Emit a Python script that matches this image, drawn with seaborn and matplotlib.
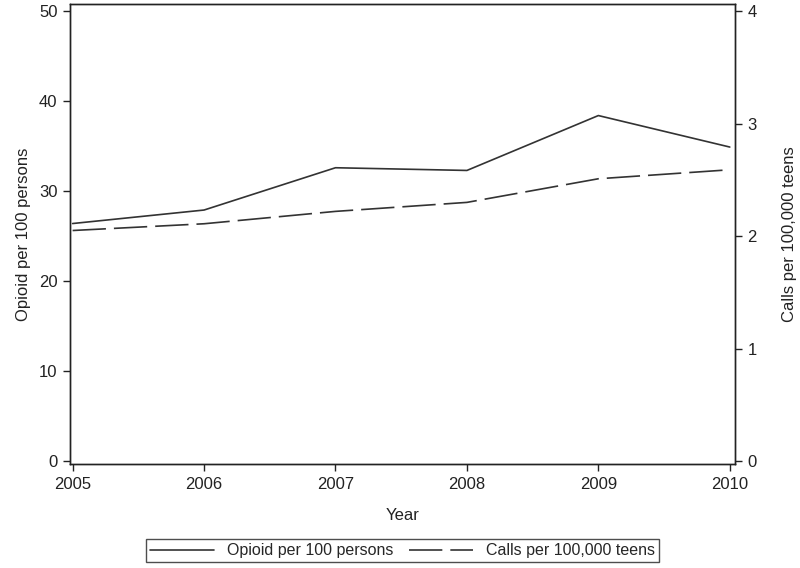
import matplotlib
matplotlib.use("Agg")
import matplotlib.pyplot as plt
import pandas as pd
import seaborn as sns

years = [2005, 2006, 2007, 2008, 2009, 2010]
opioid = [26.4, 27.9, 32.6, 32.3, 38.4, 34.9]
calls = [2.05, 2.11, 2.22, 2.30, 2.51, 2.59]
left_ticks = [0, 10, 20, 30, 40, 50]
right_ticks = [0, 1, 2, 3, 4]

sns.set_style("ticks")
plt.rcParams['font.family'] = ['Liberation Sans', 'DejaVu Sans']

df = pd.DataFrame({"Year": years, "opioid": opioid, "calls": calls})
line_color = "#333333"
text_color = "#222222"

fig = plt.figure(figsize=(8, 5.68), dpi=100)
ax = fig.add_axes([0.0875, 0.183, 0.8313, 0.81])
ax2 = ax.twinx()

sns.lineplot(data=df, x="Year", y="opioid", ax=ax, color=line_color,
             linewidth=1.2, label="Opioid per 100 persons", legend=False)
sns.lineplot(data=df, x="Year", y="calls", ax=ax2, color=line_color,
             linewidth=1.2, label="Calls per 100,000 teens", legend=False)
# long dashes, like the original
ax2.lines[0].set_linestyle((0, (20, 4.8)))

ax.set_xlim(2004.98, 2010.04)
ax.set_ylim(-0.33, 50.8)
ax2.set_ylim(-0.33 / 12.5, 50.8 / 12.5)
ax.set_xticks(years)
ax.set_yticks(left_ticks)
ax2.set_yticks(right_ticks)

for a in (ax, ax2):
    for s in a.spines.values():
        s.set_color(text_color)
        s.set_linewidth(1.0)
    a.tick_params(labelsize=12, length=5, width=1.0, pad=4,
                  color=text_color, labelcolor=text_color)

ax.set_xlabel("Year", fontsize=12, color=text_color, labelpad=12)
ax.set_ylabel("Opioid per 100 persons", fontsize=12, color=text_color, labelpad=6)
ax2.set_ylabel("Calls per 100,000 teens", fontsize=12, color=text_color, labelpad=18)

handles = ax.get_lines()[:1] + ax2.get_lines()[:1]
labels = ["Opioid per 100 persons", "Calls per 100,000 teens"]
leg = fig.legend(handles, labels, loc="center", bbox_to_anchor=(0.503, 0.03),
                 ncol=2, frameon=True, fancybox=False, fontsize=11.5,
                 handlelength=4.0, columnspacing=1.0, borderpad=0.25,
                 edgecolor=text_color)
leg.get_frame().set_linewidth(1.0)

fig.savefig("out.png", dpi=100)
